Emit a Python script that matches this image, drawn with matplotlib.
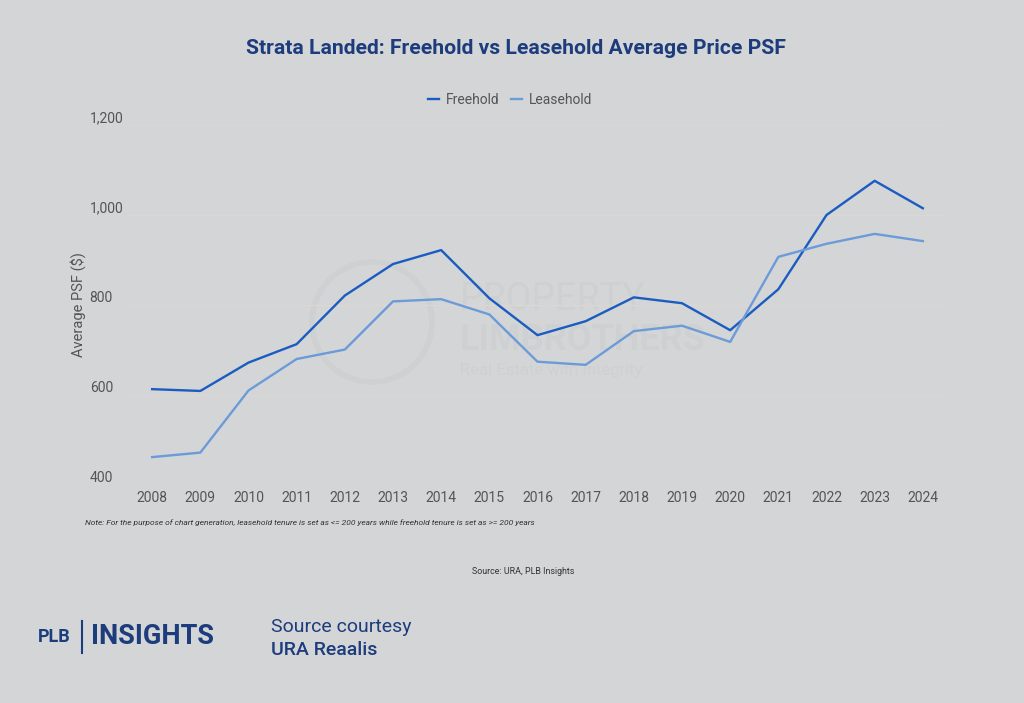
import matplotlib
matplotlib.use("Agg")
import matplotlib.pyplot as plt
from matplotlib.patches import Ellipse

plt.rcParams['font.family'] = ['Roboto', 'DejaVu Sans']

# -----------------------------------------------------------
# data
# -----------------------------------------------------------
years = list(range(2008, 2025))
freehold = [613, 609, 672, 713, 821, 891, 922, 815, 733, 764, 817, 804, 744, 835, 1000, 1076, 1015]
leasehold = [462, 472, 610, 680, 701, 808, 813, 779, 674, 667, 742, 754, 718, 907, 936, 958, 942]
y_ticks = [400, 600, 800, 1000, 1200]
y_tick_labels = ["400", "600", "800", "1,000", "1,200"]

BG = "#d4d5d7"
NAVY = "#1d3c7c"
FH_COL = "#1a5cc0"
LH_COL = "#6b9bd8"
GREY = "#555555"
WM = "#cfd0d2"

W, H = 1024, 703


def fx(px):
    return px / W


def fy(py):
    return 1 - py / H


fig = plt.figure(figsize=(10.24, 7.03), dpi=100, facecolor=BG)

# -----------------------------------------------------------
# faint watermark behind the plot
# -----------------------------------------------------------
fig.patches.append(Ellipse((fx(372), fy(322)), 120 / W, 120 / H, transform=fig.transFigure,
                           fill=False, lw=4, ec=WM, zorder=-5))
fig.text(fx(460), fy(300), "PROPERTY", fontsize=27, color=WM, va="center", zorder=-5)
fig.text(fx(460), fy(340), "LIMBROTHERS", fontsize=26, fontweight="bold", color=WM,
         va="center", zorder=-5)
fig.text(fx(460), fy(370), "Real Estate with Integrity", fontsize=12, color=WM,
         va="center", zorder=-5)

# -----------------------------------------------------------
# main axes
# -----------------------------------------------------------
ax = fig.add_axes([fx(130), fy(485), 815 / W, 360 / H])
ax.patch.set_alpha(0)

ax.plot(years, freehold, color=FH_COL, lw=1.7, label="Freehold", zorder=3)
ax.plot(years, leasehold, color=LH_COL, lw=1.7, label="Leasehold", zorder=3)

ax.set_xlim(2007.54, 2024.46)
ax.set_ylim(400, 1200)
ax.set_xticks(years)
ax.set_xticklabels([str(y) for y in years], fontsize=10, color=GREY)
ax.set_yticks(y_ticks)
ax.set_yticklabels(y_tick_labels, fontsize=10, color=GREY, ha="left", va="bottom")
ax.tick_params(axis="y", length=0, pad=29)
ax.tick_params(axis="x", length=0, pad=4)
ax.grid(axis="y", color="#dad8d5", lw=1)
ax.set_axisbelow(True)
for s in ax.spines.values():
    s.set_visible(False)

ax.set_ylabel("Average PSF ($)", fontsize=10.5, color=GREY)
ax.yaxis.set_label_coords(-0.054, 0.5)

fig.legend(loc="center", bbox_to_anchor=(fx(510), fy(100)), ncol=2, frameon=False,
           fontsize=10, labelcolor=GREY, handlelength=0.8, handletextpad=0.5, columnspacing=0.8)

# -----------------------------------------------------------
# texts
# -----------------------------------------------------------
fig.text(fx(516), fy(48), "Strata Landed: Freehold vs Leasehold Average Price PSF",
         ha="center", va="center", fontsize=15.2, fontweight="bold", color=NAVY)

fig.text(fx(85), fy(523),
         "Note: For the purpose of chart generation, leasehold tenure is set as <= 200 years while freehold tenure is set as >= 200 years",
         fontsize=6.0, style="italic", color="#333333", va="center")
fig.text(fx(523), fy(571), "Source: URA, PLB Insights", fontsize=6.4, color="#333333",
         ha="center", va="center")

# bottom branding
fig.text(fx(38), fy(637), "PLB", fontsize=13, fontweight="bold", color=NAVY, va="center")
fig.add_artist(plt.Line2D([fx(82), fx(82)], [fy(653), fy(621)], color=NAVY, lw=1.5))
fig.text(fx(91), fy(636), "INSIGHTS", fontsize=19.5, fontweight="bold", color=NAVY, va="center")
fig.text(fx(271), fy(627), "Source courtesy", fontsize=14, color=NAVY, va="center")
fig.text(fx(271), fy(650), "URA Reaalis", fontsize=14, fontweight="medium", color=NAVY, va="center")

fig.savefig("out.png", dpi=100, facecolor=BG)
